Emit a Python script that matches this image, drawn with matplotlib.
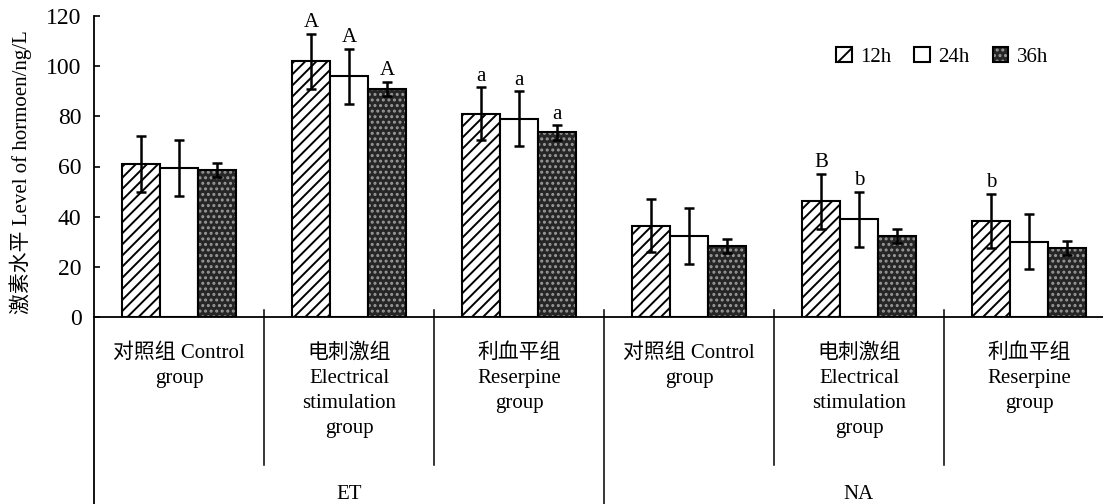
import matplotlib
matplotlib.use("Agg")
import matplotlib.pyplot as plt
from matplotlib.patches import Rectangle
from matplotlib.lines import Line2D
from matplotlib.legend_handler import HandlerTuple
import numpy as np

plt.rcParams['font.family'] = ['Liberation Serif', 'Noto Sans CJK SC']
plt.rcParams['hatch.linewidth'] = 1.4

# 各组数据 (mean, SD)
groups = ['对照组 Control\ngroup', '电刺激组\nElectrical\nstimulation\ngroup', '利血平组\nReserpine\ngroup',
          '对照组 Control\ngroup', '电刺激组\nElectrical\nstimulation\ngroup', '利血平组\nReserpine\ngroup']
hormones = ['ET', 'NA']
times = ['12h', '24h', '36h']

v12 = [61.0, 102.0, 81.0, 36.4, 46.2, 38.4]
e12 = [11.0, 11.0, 10.5, 10.5, 11.0, 10.8]
v24 = [59.4, 96.0, 79.0, 32.3, 39.0, 30.0]
e24 = [11.0, 11.0, 11.0, 11.0, 11.0, 11.0]
v36 = [58.6, 91.0, 73.6, 28.3, 32.3, 27.4]
e36 = [2.8, 2.8, 2.9, 2.8, 2.6, 2.7]

sig12 = ['', 'A', 'a', '', 'B', 'b']
sig24 = ['', 'A', 'a', '', 'b', '']
sig36 = ['', 'A', 'a', '', '', '']

W, H = 1103, 504
fig = plt.figure(figsize=(W / 100, H / 100), dpi=100)
ax = fig.add_axes([94 / W, (H - 317) / H, (W - 94) / W, 301 / H])

n = len(groups)
x = np.arange(n) + 0.5
bw = 38 / 170

def draw_series(xs, vals, errs, sig, kind):
    if kind == 'hatch':
        ax.bar(xs, vals, bw, color='white', edgecolor='black', hatch='///', linewidth=1.5, zorder=2)
    elif kind == 'plain':
        ax.bar(xs, vals, bw, color='white', edgecolor='black', linewidth=1.5, zorder=2)
    else:
        ax.bar(xs, vals, bw, color='#262626', edgecolor='#9a9a9a', hatch='...', linewidth=0, zorder=2)
        ax.bar(xs, vals, bw, color='none', edgecolor='black', linewidth=1.5, zorder=3)
    ax.errorbar(xs, vals, yerr=errs, fmt='none', ecolor='black', elinewidth=1.8,
                capsize=3.3, capthick=1.8, zorder=4)
    for xi, v, e, s in zip(xs, vals, errs, sig):
        if s:
            ax.text(xi, v + e + 0.6, s, ha='center', va='bottom', fontsize=15)

draw_series(x - bw, v12, e12, sig12, 'hatch')
draw_series(x, v24, e24, sig24, 'plain')
draw_series(x + bw, v36, e36, sig36, 'dots')

ax.set_xlim(0, (W - 94) / 170)
ax.set_ylim(0, 120)
ax.set_yticks(range(0, 121, 20))
ax.tick_params(axis='y', direction='in', length=4.5, width=1.2, labelsize=17, pad=9)
ax.set_xticks([])
for side in ['top', 'right']:
    ax.spines[side].set_visible(False)
ax.spines['left'].set_linewidth(1.3)
ax.spines['bottom'].set_linewidth(1.3)

ax.set_ylabel('激素水平 Level of hormoen/ng/L', fontsize=15)
ax.yaxis.set_label_coords(-62 / (W - 94), 0.48)

# 分类轴：分隔线和标签
tr = ax.get_xaxis_transform()
def py(p):
    return (317 - p) / 301

ax.add_line(Line2D([0, 0], [0, py(504)], transform=tr, color='black', lw=1.3, clip_on=False))
for i in range(1, n):
    bottom = 504 if i == 3 else 465
    ax.add_line(Line2D([i, i], [py(310), py(bottom)], transform=tr, color='black', lw=1.1, clip_on=False))

for xi, g in zip(x, groups):
    for k, line in enumerate(g.split('\n')):
        ax.text(xi, py(358 + 25 * k), line, transform=tr, ha='center', va='baseline',
                fontsize=15, clip_on=False)
for k, h in enumerate(hormones):
    ax.text(3 * k + 1.5, py(499), h, transform=tr, ha='center', va='baseline', fontsize=15,
            clip_on=False)

# 图例
h12 = Rectangle((0, 0), 1, 1, facecolor='white', edgecolor='black', hatch='//', linewidth=1.5)
h24 = Rectangle((0, 0), 1, 1, facecolor='white', edgecolor='black', linewidth=1.5)
h36a = Rectangle((0, 0), 1, 1, facecolor='#262626', edgecolor='#9a9a9a', hatch='...', linewidth=0)
h36b = Rectangle((0, 0), 1, 1, facecolor='none', edgecolor='black', linewidth=1.5)
fig.legend([h12, h24, (h36a, h36b)], times, loc='center', bbox_to_anchor=(942 / W, 1 - 57 / H),
           ncol=3, frameon=False, fontsize=15, handlelength=0.75, handleheight=0.75,
           handletextpad=0.4, columnspacing=1.1,
           handler_map={tuple: HandlerTuple(ndivide=1, pad=0)})

fig.savefig('out.png', dpi=100)
